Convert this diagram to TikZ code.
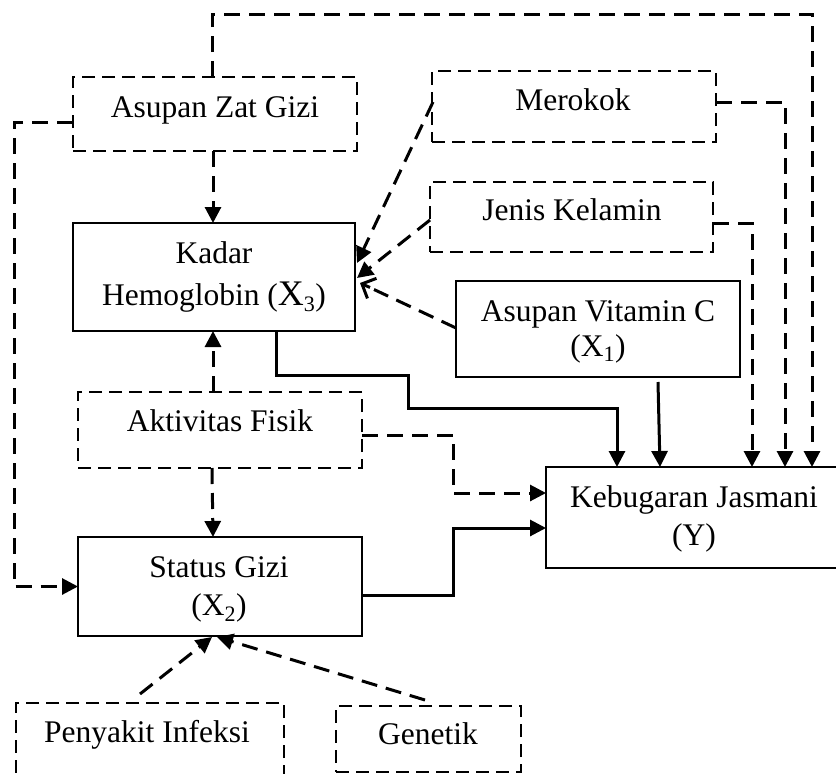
\documentclass[tikz,border=0pt]{standalone}
\usepackage{fontspec}
\setmainfont{Liberation Serif}
\usetikzlibrary{arrows.meta,calc}
\begin{document}
\begin{tikzpicture}[x={(1pt,0)},y={(0,-1pt)},
  box/.style={draw, line width=2pt, inner sep=0pt, outer sep=0pt},
  dbox/.style={box, dash pattern=on 13pt off 7pt},
  txt/.style={anchor=base, inner sep=0pt, font=\fontsize{31.5}{38}\selectfont},
  conn/.style={line width=3pt, -{Triangle[length=16pt,width=16pt]}},
  dconn/.style={conn, dash pattern=on 16pt off 9pt},
  oline/.style={line width=3pt, dash pattern=on 16pt off 9pt},
  otip/.style={line width=3pt, -{Straight Barb[length=11pt,width=22pt,line width=3pt]}}]
\useasboundingbox (0,0) rectangle (836,774);
% boxes
\node[dbox, minimum width=284pt, minimum height=74pt] (zat) at (215,114) {};
\node[dbox, minimum width=284pt, minimum height=71pt] (mer) at (574,106.5) {};
\node[dbox, minimum width=283pt, minimum height=70pt] (jk) at (571.5,217) {};
\node[box, minimum width=282pt, minimum height=108pt] (kad) at (214,277) {};
\node[box, minimum width=284pt, minimum height=96pt] (vitc) at (598,329) {};
\node[dbox, minimum width=284pt, minimum height=76pt] (akt) at (220,430) {};
\node[box, minimum width=304pt, minimum height=101pt] (kb) at (698,517.5) {};
\node[box, minimum width=284pt, minimum height=99pt] (sg) at (220,586.5) {};
\node[dbox, minimum width=268pt, minimum height=87pt] (pi) at (150,746.5) {};
\node[dbox, minimum width=185pt, minimum height=66pt] (gen) at (428.5,739) {};
% texts
\node[txt] (zatT) at (215,117) {Asupan Zat Gizi};
\node[txt] (merT) at (573,110) {Merokok};
\node[txt] (jkT) at (572,220) {Jenis Kelamin};
\node[txt] (kadT1) at (214,263) {Kadar};
\node[txt] (kadT2) at (214,305) {Hemoglobin ({\fontsize{36}{40}\selectfont X}\textsubscript{3})};
\node[txt] (vitT1) at (598,321) {Asupan Vitamin C};
\node[txt] (vitT2) at (598,356) {(X\textsubscript{1})};
\node[txt] (aktT) at (220,431) {Aktivitas Fisik};
\node[txt] (sgT1) at (219,577) {Status Gizi};
\node[txt] (sgT2) at (219,615) {(X\textsubscript{2})};
\node[txt] (kbT1) at (694,507) {Kebugaran Jasmani};
\node[txt] (kbT2) at (694,545) {(Y)};
\node[txt] (piT) at (147,742) {Penyakit Infeksi};
\node[txt] (genT) at (428,744) {Genetik};
% connectors
\draw[dconn] ($(zat.north)+(-3,0)$) -- ++(0,-63) -| ($(kb.north)+(114,0)$);
\draw[dconn] ($(zat.west)+(0,8)$) -- ++(-59,0) |- (sg.west);
\draw[dconn] ($(zat.south)+(-2,0)$) -- ($(kad.north)+(-1,0)$);
\draw[dconn] ($(mer.west)+(1,-4.5)$) -- ($(kad.east)+(2,-14)$);
\draw[dconn] ($(jk.west)+(0,3)$) -- ($(kad.east)+(2,1)$);
\draw[oline] ($(vitc.west)+(0,-1)$) -- ($(kad.east)+(19,12.5)$);
\draw[otip] ($(kad.east)+(15,10.5)$) -- ($(kad.east)+(5,6)$);
\draw[dconn] ($(mer.east)+(0,-4.5)$) -| ($(kb.north)+(87,0)$);
\draw[dconn] ($(jk.east)+(0,6)$) -| ($(kb.north)+(54,0)$);
\draw[conn] ($(vitc.south)+(60,5)$) -- ($(kb.north)+(-38,0)$);
\draw[conn] ($(kad.south)+(62,0)$) -- ++(0,44) -- ++(132,0) -- ++(0,33) -| ($(kb.north)+(-81,0)$);
\draw[dconn] ($(akt.north)+(-7,0)$) -- ($(kad.south)+(-1,0)$);
\draw[dconn] ($(akt.south)+(-8,0)$) -- ($(sg.north)+(-7,0)$);
\draw[dconn] ($(akt.east)+(0,5)$) -- ++(91,0) |- ($(kb.west)+(0,-24.5)$);
\draw[conn] ($(sg.east)+(0,8.5)$) -- ++(91,0) |- ($(kb.west)+(0,10.5)$);
\draw[dconn] ($(pi.north)+(-10,-9)$) -- ($(sg.south)+(-8,1)$);
\draw[dconn] ($(gen.north)+(-3.5,-6)$) -- ($(sg.south)+(-3,1)$);
\end{tikzpicture}
\end{document}
